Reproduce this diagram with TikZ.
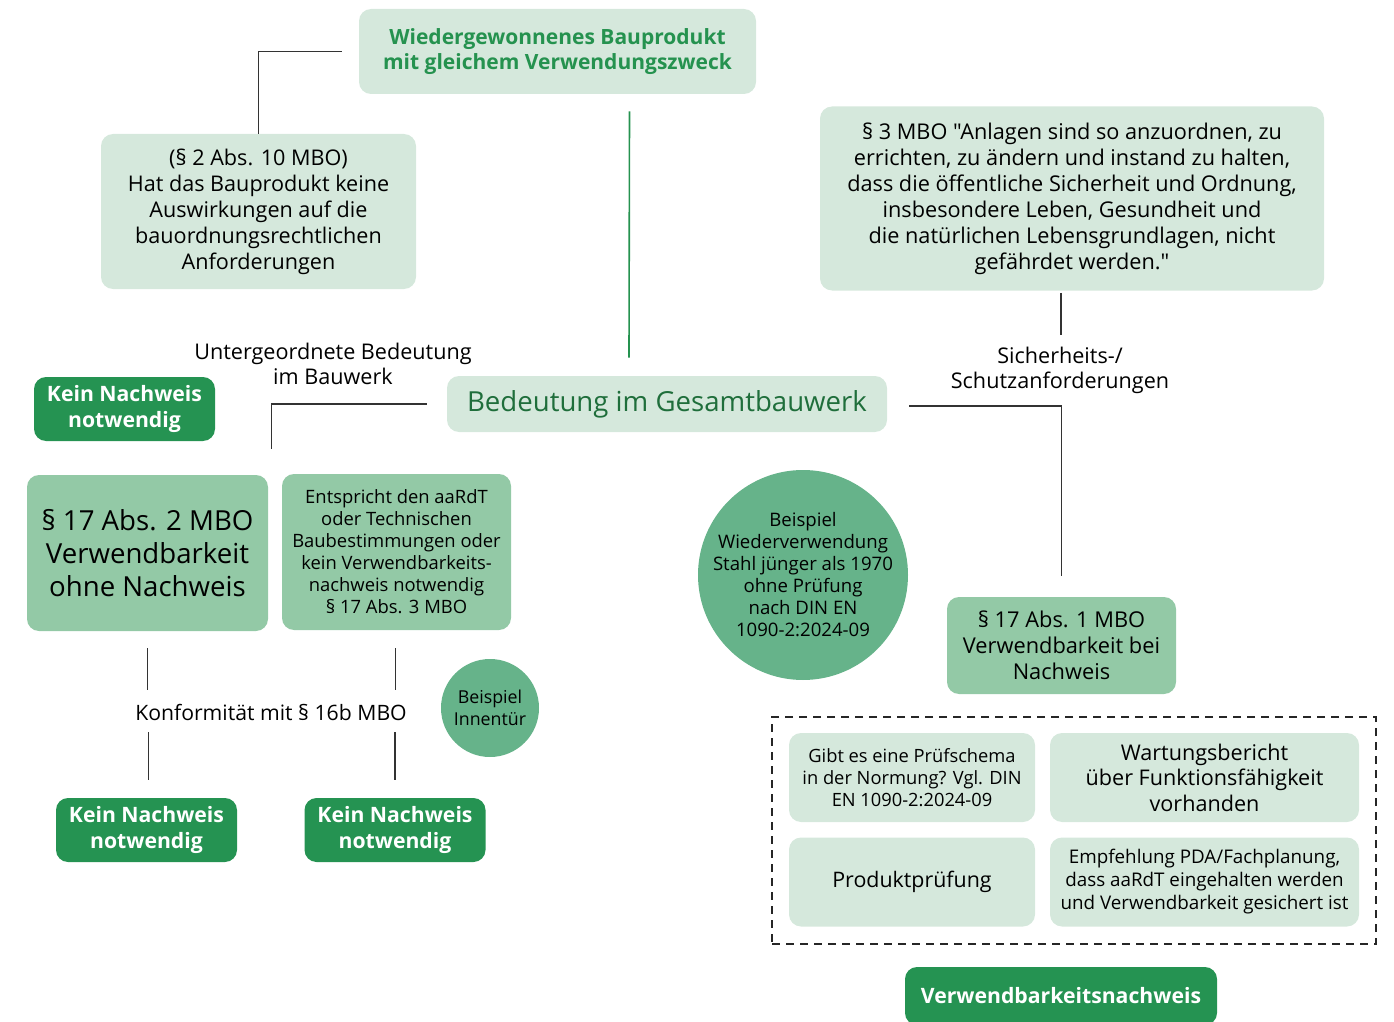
\documentclass[tikz,border=0pt]{standalone}
\usepackage{fontspec}
\setmainfont{Open Sans}[Ligatures=TeXOff]
\usetikzlibrary{calc, positioning}

\definecolor{mint}{HTML}{D5E8DC}
\definecolor{midgreen}{HTML}{93C9A6}
\definecolor{circgreen}{HTML}{66B38A}
\definecolor{darkgreen}{HTML}{259352}
\definecolor{titlegreen}{HTML}{25924F}
\definecolor{bedgreen}{HTML}{1F6E3B}

\newcommand{\fs}[2]{\fontsize{#1}{#2}\selectfont}

\tikzset{
	box/.style={rounded corners=6pt, align=center, inner sep=0pt},
	light/.style={box, fill=mint},
	mid/.style={box, fill=midgreen},
	dark/.style={box, fill=darkgreen, text=white, font=\bfseries\fs{10.6}{13}, minimum width=90.5pt, minimum height=32pt},
	bubble/.style={circle, fill=circgreen, align=center, inner sep=0pt},
	conn/.style={draw=black!80, line width=0.6pt},
	lbl/.style={align=center, font=\fs{10.8}{12.5}}
}

\begin{document}
\begin{tikzpicture}[x=0.5pt, y=-0.5pt]
	\useasboundingbox (0,0) rectangle (1394,1022);
	
	% top row
	\node[light, text=titlegreen, font=\bfseries\fs{10.5}{12.5}, minimum width=198.5pt, minimum height=42.5pt] (top) at (557.5,51.5) {Wiedergewonnenes Bauprodukt\\mit gleichem Verwendungszweck};
	\node[light, font=\fs{10.8}{13}, minimum width=157.5pt, minimum height=77.5pt] (par2) at (258.5,211.5) {(§ 2 Abs. 10 MBO)\\Hat das Bauprodukt keine\\Auswirkungen auf die\\bauordnungsrechtlichen\\Anforderungen};
	\node[light, font=\fs{10.85}{13}, minimum width=252pt, minimum height=92pt] (par3) at (1072,198.5) {§ 3 MBO "Anlagen sind so anzuordnen, zu\\errichten, zu ändern und instand zu halten,\\dass die öffentliche Sicherheit und Ordnung,\\insbesondere Leben, Gesundheit und\\die natürlichen Lebensgrundlagen, nicht\\gefährdet werden."};
	
	\node[light, text=bedgreen, font=\fs{13.8}{17}, minimum width=220pt, minimum height=28pt] (bed) at (667,404) {Bedeutung im Gesamtbauwerk};
	
	% left branch
	\node[dark] (kn0) at (124.5,409) {Kein Nachweis\\notwendig};
	\node[mid, font=\fs{13.8}{16.5}, minimum width=120.5pt, minimum height=78pt] (abs2) at (147.5,553) {§ 17 Abs. 2 MBO\\Verwendbarkeit\\ohne Nachweis};
	\node[mid, font=\fs{9.2}{11}, minimum width=114.5pt, minimum height=78pt] (ent) at (396.5,552) {Entspricht den aaRdT\\oder Technischen\\Baubestimmungen oder\\kein Verwendbarkeits-\\nachweis notwendig\\§ 17 Abs. 3 MBO};
	\node[bubble, minimum size=49pt, font=\fs{8.9}{11}] (innen) at (490,708) {Beispiel\\Innentür};
	\node[dark] (kn1) at (146.5,830) {Kein Nachweis\\notwendig};
	\node[dark] (kn2) at (395,830) {Kein Nachweis\\notwendig};
	
	% right branch
	\node[bubble, minimum size=105pt, label={[align=center, font=\fs{9.3}{11}]center:Beispiel\\Wiederverwendung\\Stahl jünger als 1970\\ohne Prüfung\\nach DIN EN\\1090-2:2024-09}] (stahl) at (803,575) {};
	\node[mid, font=\fs{10.9}{13}, minimum width=114.5pt, minimum height=48.5pt] (abs1) at (1061.5,645.5) {§ 17 Abs. 1 MBO\\Verwendbarkeit bei\\Nachweis};
	
	\node[draw=black!85, line width=0.7pt, dash pattern=on 4pt off 3pt, minimum width=302pt, minimum height=113.5pt, inner sep=0pt] (frame) at (1074,830.5) {};
	\node[light, font=\fs{9.15}{11}, minimum width=123pt, minimum height=44.5pt] (q1) at (912,777.5) {Gibt es eine Prüfschema\\in der Normung? Vgl. DIN\\EN 1090-2:2024-09};
	\node[light, font=\fs{10.8}{12.75}, minimum width=154.5pt, minimum height=44.5pt] (q2) at (1204.5,777.5) {Wartungsbericht\\über Funktionsfähigkeit\\vorhanden};
	\node[light, font=\fs{10.7}{13}, minimum width=123pt, minimum height=44.5pt] (q3) at (912,882) {Produktprüfung};
	\node[light, font=\fs{9.4}{11.5}, minimum width=154.5pt, minimum height=44.5pt] (q4) at (1204.5,882) {Empfehlung PDA/Fachplanung,\\dass aaRdT eingehalten werden\\und Verwendbarkeit gesichert ist};
	\node[dark, minimum width=156pt, minimum height=29pt] (vwn) at (1061,996) {Verwendbarkeitsnachweis};
	
	% labels
	\node[lbl] (lunter) at (333,364) {Untergeordnete Bedeutung\\im Bauwerk};
	\node[lbl] (lsich) at (1060,370) {Sicherheits-/\\Schutzanforderungen};
	\node[lbl, font=\fs{10.6}{12.5}] (lkonf) at (271,712) {Konformität mit § 16b MBO};
	
	% connectors
	\draw[conn] ([xshift=-8.5pt]top.west) -| (par2.north);
	\draw[draw=titlegreen, line width=0.8pt] ($(top.south)+(72,17)$) -- ($(bed.north)+(-38,-18)$);
	\draw[conn] ([xshift=-10pt]bed.west) -| ($(abs2.north east)+(3,-26)$);
	\draw[conn] ($(bed.east)+(22,2)$) -| ($(abs1.north)+(0,-21)$);
	\draw[conn] ($(par3.south)+(-11,2)$) -- ++(0,42);
	\draw[conn] ($(abs2.south)+(0,17)$) -- ++(0,42);
	\draw[conn] ($(kn1.north)+(2,-18)$) -- ++(0,-48);
	\draw[conn] ($(ent.south)+(-1,18)$) -- ++(0,42);
	\draw[conn] ($(kn2.north)+(0,-18)$) -- ++(0,-48);
	
\end{tikzpicture}
\end{document}
